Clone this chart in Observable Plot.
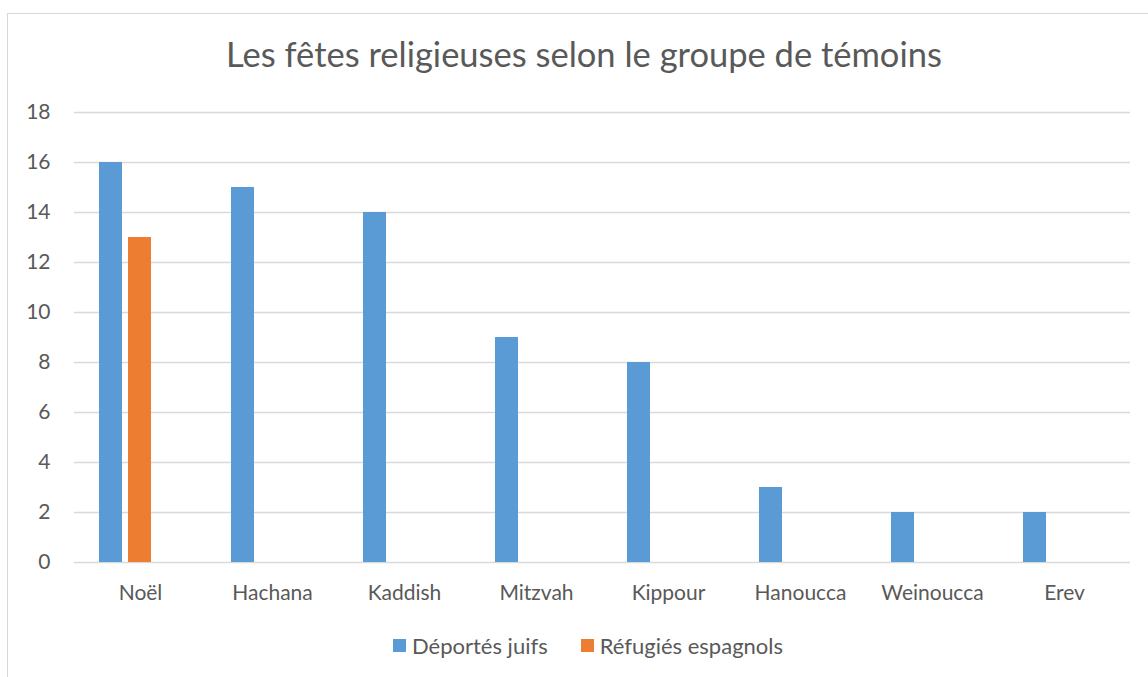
<!DOCTYPE html>
<html>
<head>
<meta charset="utf-8">
<script src="https://cdn.jsdelivr.net/npm/d3@7"></script>
<script src="https://cdn.jsdelivr.net/npm/@observablehq/plot@0.6"></script>
<style>
  html, body { margin: 0; padding: 0; background: #fff; width: 1148px; height: 677px; overflow: hidden; }
  body { position: relative; font-family: Lato, "Open Sans", sans-serif; color: #595959; }
  #frame { position: absolute; left: 7px; top: 13px; width: 1160px; height: 700px; border: 1px solid #d9d9d9; box-sizing: border-box; }
  #title { position: absolute; left: 0; width: 1168px; top: 33px; text-align: center; font-size: 34.5px; color: #595959; }
  #chart { position: absolute; left: 0; top: 90px; }
  #legend { position: absolute; top: 632px; left: 393px; display: flex; gap: 33px; font-size: 22px; color: #595959; white-space: nowrap; }
  .item { display: flex; align-items: center; gap: 6px; }
  .sw { width: 13px; height: 13px; display: inline-block; }
</style>
</head>
<body>
<div id="frame"></div>
<div id="title">Les fêtes religieuses selon le groupe de témoins</div>
<div id="chart"></div>
<div id="legend"></div>
<script>
const categories = ["Noël", "Hachana", "Kaddish", "Mitzvah", "Kippour", "Hanoucca", "Weinoucca", "Erev"];
const seriesNames = ["Déportés juifs", "Réfugiés espagnols"];
const deportesJuifs = [16, 15, 14, 9, 8, 3, 2, 2];
const refugiesEspagnols = [13, 0, 0, 0, 0, 0, 0, 0];
const colors = ["#5B9BD5", "#ED7D31"];
const yTicks = [0, 2, 4, 6, 8, 10, 12, 14, 16, 18];

const data = [];
categories.forEach((c, i) => {
  data.push({category: c, series: seriesNames[0], value: deportesJuifs[i]});
  data.push({category: c, series: seriesNames[1], value: refugiesEspagnols[i]});
});

const chart = Plot.plot({
  width: 1148,
  height: 520,
  marginLeft: 72,
  marginRight: 17,
  marginTop: 22,
  marginBottom: 48,
  style: {fontFamily: "Lato, 'Open Sans', sans-serif", fontSize: "20px", color: "#595959", background: "transparent", overflow: "visible"},
  fx: {domain: categories, padding: 0, label: null},
  x: {domain: seriesNames, paddingInner: 0.203, paddingOuter: 1.346, align: 0.315, axis: null},
  y: {domain: [0, 18], label: null},
  color: {domain: seriesNames, range: colors},
  marks: [
    Plot.gridY(yTicks, {stroke: "#d9d9d9", strokeOpacity: 1, strokeWidth: 1.5}),
    Plot.barY(data, {fx: "category", x: "series", y: "value", fill: "series"}),
    Plot.axisY(yTicks, {tickSize: 0, tickPadding: 24, fontSize: 21, fill: "#595959", label: null}),
    Plot.axisFx({anchor: "bottom", tickSize: 0, tickPadding: 23, fontSize: 21, fill: "#595959", label: null})
  ]
});
document.getElementById("chart").appendChild(chart);

const legend = document.getElementById("legend");
seriesNames.forEach((s, i) => {
  const it = document.createElement("div");
  it.className = "item";
  const sw = document.createElement("span");
  sw.className = "sw";
  sw.style.background = colors[i];
  const t = document.createElement("span");
  t.textContent = s;
  it.appendChild(sw); it.appendChild(t);
  legend.appendChild(it);
});
</script>
</body>
</html>
